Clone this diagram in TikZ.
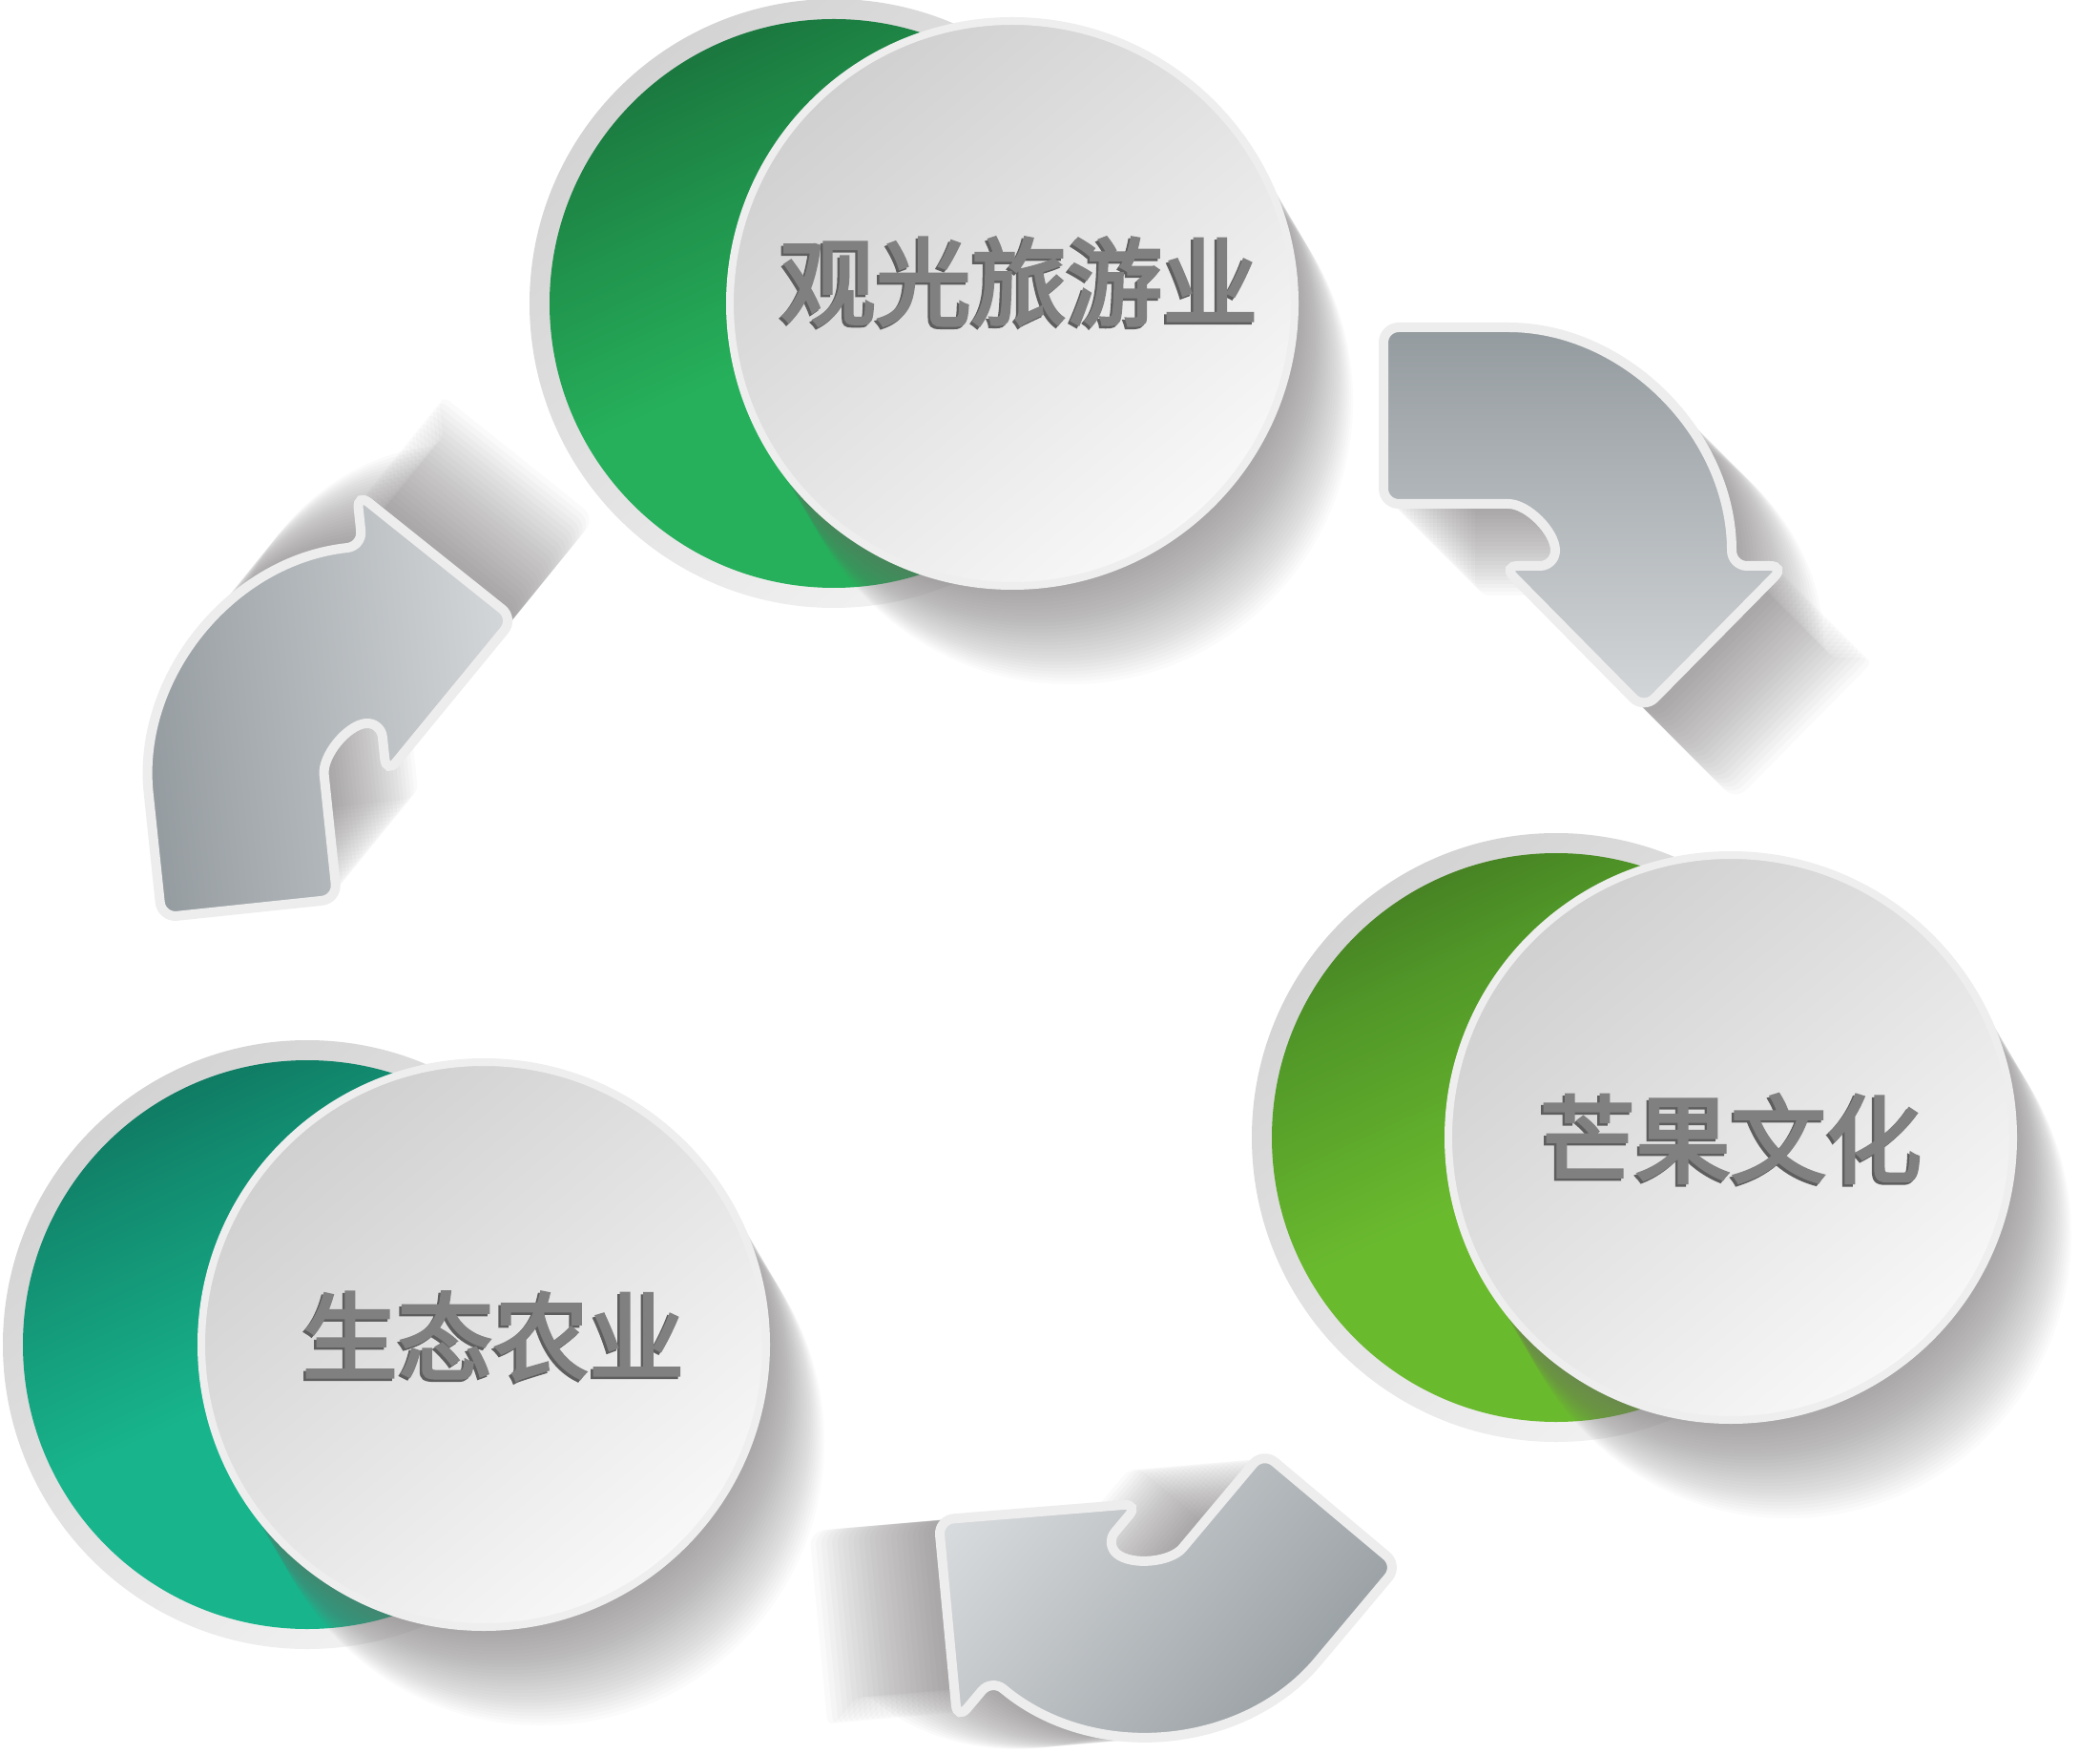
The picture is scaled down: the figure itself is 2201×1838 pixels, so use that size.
\documentclass[tikz,border=0pt]{standalone}
\usepackage{fontspec}
\newfontfamily\cjk{Noto Sans CJK SC}[FakeBold=3.2]
\definecolor{ringA}{HTML}{D3D3D3}
\definecolor{ringB}{HTML}{F3F3F3}
\definecolor{discA}{HTML}{D0D0D0}
\definecolor{discB}{HTML}{F8F8F8}
\definecolor{rimC}{HTML}{EEEEEE}
\definecolor{gTd}{HTML}{166336}
\definecolor{gTm}{HTML}{1E8746}
\definecolor{gTb}{HTML}{26B05B}
\definecolor{gRd}{HTML}{3C6A1E}
\definecolor{gRm}{HTML}{509628}
\definecolor{gRb}{HTML}{6ABA2E}
\definecolor{gLd}{HTML}{0D6654}
\definecolor{gLm}{HTML}{128C70}
\definecolor{gLb}{HTML}{18B58C}
\definecolor{arD}{HTML}{838B90}
\definecolor{arL}{HTML}{E5E7E9}
\definecolor{arO}{HTML}{EDEDED}
\definecolor{txtC}{HTML}{808080}
\definecolor{txtS}{HTML}{5E5E5E}
\definecolor{shd}{HTML}{767272}
\pgfdeclareverticalshading{grnT}{100bp}{color(0bp)=(gTb); color(48bp)=(gTb); color(68bp)=(gTm); color(84bp)=(gTd); color(100bp)=(gTd)}
\pgfdeclareverticalshading{grnR}{100bp}{color(0bp)=(gRb); color(48bp)=(gRb); color(68bp)=(gRm); color(84bp)=(gRd); color(100bp)=(gRd)}
\pgfdeclareverticalshading{grnL}{100bp}{color(0bp)=(gLb); color(48bp)=(gLb); color(68bp)=(gLm); color(84bp)=(gLd); color(100bp)=(gLd)}
\pgfdeclareverticalshading{arrowgrad}{100bp}{color(0bp)=(arL); color(12bp)=(arL); color(88bp)=(arD); color(100bp)=(arD)}
\tikzset{
  lbl/.style={font=\cjk\fontsize{28.5pt}{30pt}\selectfont, text=txtC, inner sep=0pt},
  lblsh/.style={lbl, text=txtS},
  ringdisc/.style={top color=ringA, bottom color=ringB, shading angle=40},
  whitedisc/.style={top color=discA, bottom color=discB, shading angle=40, draw=rimC, line width=0.8mm},
  shadowlayer/.style={fill=shd, opacity=0.026},
  arrowbody/.style={draw=arO, line width=1mm, rounded corners=1.6mm, shading=arrowgrad, shading angle=#1},
  arrowshadow/.style={fill=shd, opacity=0.034, rounded corners=1.6mm},
}
\newcommand\arrowshape{(-115,-250) -- (0,-250) arc[start angle=-90, end angle=0, radius=250] -- (306,0) -- (158,150) -- (10,0) -- (65,0) arc[start angle=0, end angle=-90, radius=65] -- (-115,-65) -- cycle}
\newcommand\discgroup[4]{%
  \shade[ringdisc] (#1,#2) circle (319);
  \shade[shading=#4, shading angle=25] (#1,#2) circle (298);
  \foreach \k in {1,...,30} {\fill[shadowlayer] (#3+\k*2,#2+\k*3.4) circle (297);}
  \shade[whitedisc] (#3,#2) circle (296);
}
\newcommand\bentarrow[3]{%
  \begin{scope}[shift={(#1,#2)}, rotate=#3]
    \foreach \k in {1,...,24} {\fill[arrowshadow, shift={(\k*4,\k*4)}] \arrowshape;}
    \draw[arrowbody=#3] \arrowshape;
  \end{scope}
}
\begin{document}
\begin{tikzpicture}[x=0.1mm,y=-0.1mm]
\useasboundingbox (0,0) rectangle (2201,1838);
\fill[white] (0,0) rectangle (2201,1838);

% circle groups
\discgroup{874}{318}{1061}{grnT}
\discgroup{1631}{1192}{1814}{grnR}
\discgroup{322}{1409}{507}{grnL}

% labels
\node[lblsh] (t1s) at (1065.5,297.5) {观光旅游业};
\node[lbl]   (t1)  at (1068,295) {观光旅游业};
\node[lblsh] (t2s) at (1811.5,1195.5) {芒果文化};
\node[lbl]   (t2)  at (1814,1193) {芒果文化};
\node[lblsh] (t3s) at (514.5,1402.5) {生态农业};
\node[lbl]   (t3)  at (517,1400) {生态农业};

% bent arrows
\bentarrow{1565}{593}{0}
\bentarrow{406}{821}{96}
\bentarrow{1200}{1568}{-130}
\end{tikzpicture}
\end{document}
